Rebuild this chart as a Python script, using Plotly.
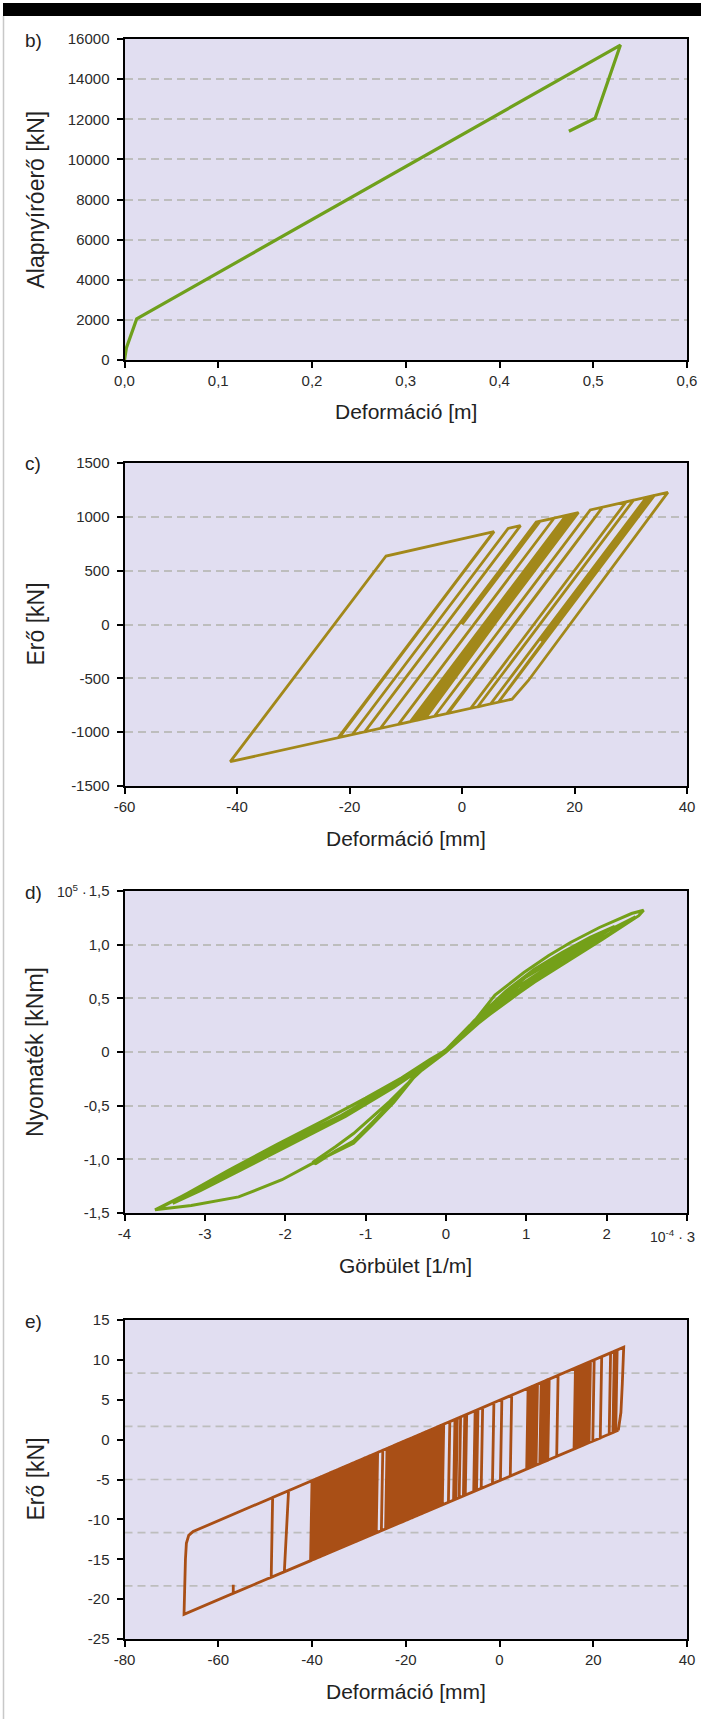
import numpy as np
import plotly.graph_objects as go

# figure size in pixels; layout positions below are given in these pixels
W, H = 701, 1719

# ---------------- b) pushover curve ----------------
push_disp_m = [0.0, 0.002, 0.013, 0.529, 0.502, 0.474]
push_shear_kN = [0, 600, 2050, 15700, 12050, 11400]

# ---------------- c) force - deformation hysteresis ----------------
hyst_c_disp_mm = [0.0, 13.9, 20.7, -7.0, -4.9, 22.8, 36.6, 11.8, 8.9, -41.2, -13.5, 5.7,
                  -22.0, 5.6, -21.8, -19.5, 8.2, 10.4, -17.3, -14.5, 13.2, 16.4, -11.3,
                  -9.2, 18.5, -9.0, 18.9, -8.6, 19.3, -8.1, -7.6, 19.6, -7.3, 20.2, -6.5,
                  -2.7, 25.0, -2.5, 1.55, 29.2, 30.5, 2.8, 5.1, 32.8, 34.2, 6.5, 33.5, 14.0]
hyst_c_force_kN = [0, 959, 1040, -877, -853, 1064, 1227, -520, -693, -1274, 636, 863,
                   -1051, 861, -1049, -1022, 892, 918, -997, -964, 951, 989, -927,
                   -903, 1014, -900, 1018, -896, 1023, -890, -884, 1027, -881, 1034, -871,
                   -827, 1090, -825, -778, 1140, 1155, -764, -737, 1182, 1199, -721, 1191, -155]

# ---------------- d) moment - curvature ----------------
curv_e4 = [0.00, 0.25, 0.61, 0.97, 1.28, 1.55, 1.91, 2.31, 2.46, 2.40, 1.95, 1.55, 1.10, 0.70,
           0.34, 0.00, -0.25, -0.56, -1.19, -1.95, -2.58, -3.17, -3.62, -3.17, -2.58, -2.04,
           -1.69, -1.37, -1.15, -0.92, -0.65, -0.38, -0.20, 0.00,
           0.30, 0.65, 1.00, 1.40, 1.80, 2.15, 2.36, 2.05, 1.65, 1.20, 0.80, 0.40, 0.00,
           -0.30, -0.70, -1.30, -1.90, -2.50, -3.10, -3.55, -3.25, -2.70, -2.10, -1.50, -1.00,
           -0.55, -0.20, 0.05,
           0.35, 0.75, 1.10, 1.45, 1.80, 2.10, 1.85, 1.45, 1.05, 0.65, 0.30, 0.00, -0.30,
           -0.50, -0.70, -0.92, -1.15, -1.37, -1.66, -1.62, -1.37, -1.15, -0.92, -0.65, -0.38,
           -0.15, 0.05,
           0.45, 0.90, 1.35, 1.75, 1.98, 1.60, 1.15, 0.70, 0.30, -0.10, -0.60, -1.20, -1.80,
           -2.40, -3.00, -3.40, -3.05, -2.45, -1.85, -1.25, -0.65, -0.10, 0.00]
moment_e5 = [0.00, 0.19, 0.53, 0.74, 0.90, 1.02, 1.16, 1.29, 1.32, 1.27, 1.05, 0.86, 0.65, 0.44,
             0.23, 0.00, -0.12, -0.28, -0.56, -0.84, -1.09, -1.30, -1.47, -1.43, -1.35, -1.19,
             -1.05, -0.93, -0.85, -0.68, -0.47, -0.22, -0.09, 0.02,
             0.25, 0.49, 0.70, 0.88, 1.05, 1.18, 1.26, 1.11, 0.93, 0.71, 0.49, 0.27, 0.01,
             -0.14, -0.33, -0.59, -0.81, -1.05, -1.27, -1.45, -1.33, -1.10, -0.86, -0.63, -0.43,
             -0.24, -0.07, 0.04,
             0.29, 0.57, 0.77, 0.93, 1.07, 1.17, 1.05, 0.87, 0.66, 0.43, 0.20, 0.00, -0.17,
             -0.31, -0.46, -0.61, -0.76, -0.88, -1.03, -1.04, -0.92, -0.83, -0.66, -0.45, -0.21,
             -0.06, 0.05,
             0.33, 0.61, 0.83, 1.00, 1.09, 0.91, 0.69, 0.45, 0.21, -0.04, -0.30, -0.57, -0.81,
             -1.04, -1.26, -1.41, -1.29, -1.06, -0.83, -0.60, -0.33, -0.05, 0.00]

# ---------------- e) force - deformation (damper) ----------------
e_outline_x = [25.35, 25.9, 26.2, 26.5, -65.35, -66.3, -66.8, -67.0, -67.3,
               -56.8, -56.8, -56.8, 25.35]
e_outline_y = [1.17, 3.4, 7.0, 11.6, -11.52, -12.0, -13.0, -15.0, -21.9,
               -19.28, -18.2, -19.28, 1.17]

e_bot_x = [-48.7, -45.9, -40.3, -39.8, -39.3, -38.8, -38.3, -37.8, -37.3, -36.8, -36.4,
           -35.95, -35.5, -35.0, -34.6, -34.1, -33.6, -33.1, -32.7, -32.25, -31.8, -31.3,
           -30.8, -30.3, -29.8, -29.3, -28.8, -28.3, -27.8, -27.3, -26.8, -26.3, -25.2,
           -24.3, -23.8, -23.3, -22.8, -22.3, -21.8, -21.3, -20.8, -20.3, -19.8, -19.3,
           -18.8, -18.3, -17.8, -17.3, -16.8, -16.3, -15.75, -15.2, -14.7, -14.2, -13.7,
           -13.2, -12.7, -12.2, -10.9, -9.8, -9.3, -8.6, -7.7, -7.3, -5.5, -4.9, -3.9,
           -1.5, 0.2, 2.3, 5.8, 6.3, 6.8, 7.3, 7.8, 8.6, 9.1, 9.7, 10.3, 12.2, 15.9,
           16.4, 16.9, 17.4, 17.9, 18.5, 19.1, 19.9, 21.5, 23.4, 24.2, 24.8]
e_bot_y = [-17.27, -16.57, -15.18, -15.05, -14.93, -14.80, -14.68, -14.55, -14.43, -14.30, -14.20,
           -14.09, -13.98, -13.86, -13.76, -13.63, -13.51, -13.38, -13.28, -13.17, -13.06, -12.93,
           -12.81, -12.69, -12.56, -12.44, -12.31, -12.19, -12.06, -11.94, -11.81, -11.69, -11.41,
           -11.19, -11.07, -10.94, -10.82, -10.69, -10.57, -10.44, -10.32, -10.20, -10.07, -9.95,
           -9.82, -9.70, -9.57, -9.45, -9.32, -9.20, -9.06, -8.93, -8.80, -8.68, -8.55,
           -8.43, -8.30, -8.18, -7.85, -7.58, -7.46, -7.28, -7.06, -6.96, -6.51, -6.36, -6.11,
           -5.51, -5.09, -4.57, -3.70, -3.57, -3.45, -3.32, -3.20, -3.00, -2.87, -2.73, -2.58, -2.10, -1.18,
           -1.06, -0.93, -0.81, -0.68, -0.53, -0.38, -0.19, 0.21, 0.69, 0.89, 1.04]
e_top_x = [-48.4, -45.0, -40.0, -39.5, -39.0, -38.5, -38.0, -37.5, -37.0, -36.5, -36.1,
           -35.65, -35.2, -34.7, -34.3, -33.8, -33.3, -32.8, -32.4, -31.95, -31.5, -31.0,
           -30.5, -30.0, -29.5, -29.0, -28.5, -28.0, -27.5, -27.0, -26.5, -26.0, -24.9,
           -24.0, -23.5, -23.0, -22.5, -22.0, -21.5, -21.0, -20.5, -20.0, -19.5, -19.0,
           -18.5, -18.0, -17.5, -17.0, -16.5, -16.0, -15.45, -14.9, -14.4, -13.9, -13.4,
           -12.9, -12.4, -11.9, -10.6, -9.5, -9.0, -8.3, -7.4, -7.0, -5.2, -4.6, -3.6,
           -1.2, 0.5, 2.6, 6.1, 6.6, 7.1, 7.6, 8.1, 8.9, 9.4, 10.0, 10.6, 12.5, 16.2,
           16.7, 17.2, 17.7, 18.2, 18.8, 19.4, 20.2, 21.8, 23.7, 24.5, 25.1]
e_top_y = [-7.25, -6.40, -5.14, -5.01, -4.89, -4.76, -4.64, -4.51, -4.39, -4.26, -4.16,
           -4.05, -3.93, -3.81, -3.71, -3.58, -3.46, -3.33, -3.23, -3.12, -3.00, -2.88,
           -2.75, -2.63, -2.50, -2.37, -2.25, -2.12, -2.00, -1.87, -1.75, -1.62, -1.34,
           -1.12, -0.99, -0.87, -0.74, -0.61, -0.49, -0.36, -0.24, -0.11, 0.02, 0.14,
           0.27, 0.39, 0.52, 0.64, 0.77, 0.90, 1.03, 1.17, 1.30, 1.42, 1.55,
           1.68, 1.80, 1.93, 2.25, 2.53, 2.66, 2.83, 3.06, 3.16, 3.61, 3.76, 4.01,
           4.62, 5.05, 5.57, 6.45, 6.58, 6.71, 6.83, 6.96, 7.16, 7.28, 7.44, 7.59, 8.06, 8.99,
           9.12, 9.25, 9.37, 9.50, 9.65, 9.80, 10.00, 10.40, 10.88, 11.08, 11.23]

# Continuous path for e): outline first, then the strokes alternating up/down
e_path_x, e_path_y = list(e_outline_x), list(e_outline_y)
for i, (xb, yb, xt, yt) in enumerate(zip(e_bot_x, e_bot_y, e_top_x, e_top_y)):
    if i % 2 == 0:
        e_path_x += [xb, xt]
        e_path_y += [yb, yt]
    else:
        e_path_x += [xt, xb]
        e_path_y += [yt, yb]


# ---------------- layout helpers (pixels -> paper fractions) ----------------
def fx(p):
    return p / W


def fy(p):
    return 1 - p / H


PLOT_L, PLOT_R = 124.5, 687
BG = "#e1def1"
GRID = "#bdbdbd"
FONT = "Liberation Sans, Arial, Helvetica, sans-serif"
TICKFONT = dict(family=FONT, size=15, color="#2a2a2a")

panels = [
    dict(top=39, bottom=360,
         xr=[0, 0.6], xt=[0, 0.1, 0.2, 0.3, 0.4, 0.5, 0.6],
         xtt=["0,0", "0,1", "0,2", "0,3", "0,4", "0,5", "0,6"],
         yr=[0, 16000], yt=list(range(0, 16001, 2000)),
         ytt=[str(v) for v in range(0, 16001, 2000)], grid=True,
         xtitle="Deformáció [m]", ytitle="Alapnyíróerő [kN]", tag="b)"),
    dict(top=463, bottom=786,
         xr=[-60, 40], xt=[-60, -40, -20, 0, 20, 40],
         xtt=["-60", "-40", "-20", "0", "20", "40"],
         yr=[-1500, 1500], yt=list(range(-1500, 1501, 500)),
         ytt=[str(v) for v in range(-1500, 1501, 500)], grid=True,
         xtitle="Deformáció [mm]", ytitle="Erő [kN]", tag="c)"),
    dict(top=891, bottom=1213,
         xr=[-4, 3], xt=[-4, -3, -2, -1, 0, 1, 2, 3],
         xtt=["-4", "-3", "-2", "-1", "0", "1", "2", ""],
         yr=[-1.5, 1.5], yt=[-1.5, -1.0, -0.5, 0, 0.5, 1.0, 1.5],
         ytt=["-1,5", "-1,0", "-0,5", "0", "0,5", "1,0", "1,5"], grid=True,
         xtitle="Görbület [1/m]", ytitle="Nyomaték [kNm]", tag="d)"),
    dict(top=1320, bottom=1639,
         xr=[-80, 40], xt=[-80, -60, -40, -20, 0, 20, 40],
         xtt=["-80", "-60", "-40", "-20", "0", "20", "40"],
         yr=[-25, 15], yt=list(range(-25, 16, 5)),
         ytt=[str(v) for v in range(-25, 16, 5)], grid=False,
         xtitle="Deformáció [mm]", ytitle="Erő [kN]", tag="e)"),
]

fig = go.Figure()

traces = [
    (push_disp_m, push_shear_kN, "#6fa01c", 3.2),
    (hyst_c_disp_mm, hyst_c_force_kN, "#a2881a", 2.8),
    (curv_e4, moment_e5, "#74a019", 3.0),
    (e_path_x, e_path_y, "#a94f16", 2.8),
]
for i, (xs, ys, col, lw) in enumerate(traces, start=1):
    fig.add_trace(go.Scatter(
        x=xs, y=ys, mode="lines",
        line=dict(color=col, width=lw, shape="linear"),
        xaxis=f"x{i}", yaxis=f"y{i}", showlegend=False, hoverinfo="skip"))

layout = dict(
    width=W, height=H, margin=dict(l=0, r=0, t=0, b=0, autoexpand=False),
    paper_bgcolor="white", plot_bgcolor=BG, showlegend=False,
    font=dict(family=FONT, color="#222222"),
)

annotations = []
shapes = []

for i, p in enumerate(panels, start=1):
    sfx = "" if i == 1 else str(i)
    layout[f"xaxis{sfx}"] = dict(
        domain=[fx(PLOT_L), fx(PLOT_R)], anchor=f"y{i}", range=p["xr"],
        tickmode="array", tickvals=p["xt"], ticktext=p["xtt"],
        showline=True, linecolor="black", linewidth=2, mirror=True,
        ticks="outside", ticklen=6, tickwidth=1.5, tickcolor="black",
        ticklabeloverflow="allow",
        tickfont=TICKFONT, showgrid=False, zeroline=False, fixedrange=True)
    layout[f"yaxis{sfx}"] = dict(
        domain=[fy(p["bottom"]), fy(p["top"])], anchor=f"x{i}", range=p["yr"],
        tickmode="array", tickvals=p["yt"], ticktext=p["ytt"],
        showline=True, linecolor="black", linewidth=2, mirror=True,
        ticks="outside", ticklen=6, tickwidth=1.5, tickcolor="black",
        ticklabelstandoff=4, ticklabeloverflow="allow",
        tickfont=TICKFONT, showgrid=p["grid"], gridcolor=GRID, gridwidth=1.6,
        griddash="8px,5px", zeroline=False, fixedrange=True)

    cy = (p["top"] + p["bottom"]) / 2
    annotations.append(dict(
        text=p["ytitle"], x=fx(35), y=fy(cy), xref="paper", yref="paper",
        textangle=-90, showarrow=False, xanchor="center", yanchor="middle",
        font=dict(family=FONT, size=23, color="#222222")))
    annotations.append(dict(
        text=p["xtitle"], x=fx((PLOT_L + PLOT_R) / 2), y=fy(p["bottom"] + 52),
        xref="paper", yref="paper", showarrow=False,
        xanchor="center", yanchor="middle",
        font=dict(family=FONT, size=21, color="#222222")))
    annotations.append(dict(
        text=p["tag"], x=fx(33), y=fy(p["top"] + 1), xref="paper", yref="paper",
        showarrow=False, xanchor="center", yanchor="middle",
        font=dict(family=FONT, size=19, color="#222222")))

# unit multipliers on panel d)
annotations.append(dict(
    text="10<sup>5</sup> ·", x=fx(89), y=fy(891), xref="paper", yref="paper",
    showarrow=False, xanchor="right", yanchor="middle",
    font=dict(family=FONT, size=14, color="#2a2a2a")))
annotations.append(dict(
    text="10<sup>-4</sup> · <span style='font-size:15px'>3</span>",
    x=fx(697), y=fy(1236), xref="paper", yref="paper",
    showarrow=False, xanchor="right", yanchor="middle",
    font=dict(family=FONT, size=14, color="#2a2a2a")))

# panel e) grid lines divide the y range into six equal bands
for gy in np.linspace(-25, 15, 7)[1:-1]:
    shapes.append(dict(
        type="line", xref="x4 domain", yref="y4", x0=0, x1=1, y0=gy, y1=gy,
        line=dict(color=GRID, width=1.6, dash="8px,5px"), layer="below"))

# page frame: black strip across the top, thin grey edge down the left
shapes.append(dict(type="rect", xref="paper", yref="paper",
                   x0=fx(3), x1=1, y0=fy(16), y1=fy(3),
                   fillcolor="black", line=dict(width=0)))
shapes.append(dict(type="line", xref="paper", yref="paper",
                   x0=fx(3.5), x1=fx(3.5), y0=0, y1=fy(16),
                   line=dict(color="#c8c8c8", width=1.5)))

layout["annotations"] = annotations
layout["shapes"] = shapes
fig.update_layout(**layout)

fig.write_html("out.html")
